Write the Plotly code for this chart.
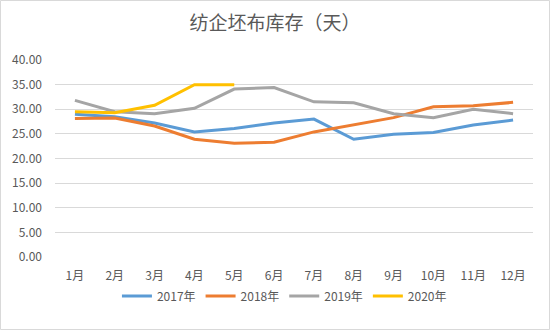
import plotly.graph_objects as go

months = ["1月", "2月", "3月", "4月", "5月", "6月", "7月", "8月", "9月", "10月", "11月", "12月"]
y2017 = [29.0, 28.5, 27.2, 25.4, 26.1, 27.2, 28.0, 23.9, 24.9, 25.3, 26.8, 27.8]
y2018 = [28.1, 28.2, 26.6, 23.9, 23.1, 23.3, 25.4, 26.8, 28.3, 30.5, 30.7, 31.4]
y2019 = [31.8, 29.5, 29.1, 30.2, 34.1, 34.4, 31.5, 31.3, 29.1, 28.3, 30.0, 29.1]
y2020 = [29.5, 29.3, 30.8, 35.0, 35.0]
series = [("2017年", y2017, "#5B9BD5"), ("2018年", y2018, "#ED7D31"),
          ("2019年", y2019, "#A5A5A5"), ("2020年", y2020, "#FFC000")]
yticks = [0, 5, 10, 15, 20, 25, 30, 35, 40]

FONT = "Noto Sans CJK SC, Noto Sans, sans-serif"
fig = go.Figure()
for name, vals, col in series:
    fig.add_trace(go.Scatter(x=months[:len(vals)], y=vals, name=name, mode="lines",
                             line=dict(color=col, width=3)))

L, R, T, B = 55, 17, 60, 73
W, H = 550, 330
pw, ph = W - L - R, H - T - B
fig.update_layout(
    width=W, height=H,
    margin=dict(l=L, r=R, t=T, b=B),
    paper_bgcolor="white", plot_bgcolor="white",
    font=dict(family=FONT, size=12, color="#595959"),
    title=dict(text="纺企坯布库存（天）", x=0.5, xanchor="center", y=1 - 23 / H, yanchor="middle",
               font=dict(size=19, color="#595959")),
    xaxis=dict(categoryorder="array", categoryarray=months, range=[-0.5, 11.5],
               showgrid=False, showline=False, ticks="", ticklabelstandoff=10,
               tickfont=dict(size=12, color="#595959")),
    yaxis=dict(range=[0, 40], tickvals=yticks, ticktext=[f"{v:.2f}" for v in yticks],
               showgrid=True, gridcolor="#D9D9D9", gridwidth=1, zeroline=False,
               tickfont=dict(size=12, color="#595959"), ticklabelstandoff=12),
    legend=dict(orientation="h", x=0.48, xanchor="center", y=-(296 - T - ph) / ph,
                yanchor="middle", font=dict(size=12, color="#595959"), itemwidth=30,
                tracegroupgap=0),
    shapes=[dict(type="rect", xref="paper", yref="paper",
                 x0=-(L - 0.5) / pw, x1=1 + (R - 0.5) / pw,
                 y0=-(B - 0.5) / ph, y1=1 + (T - 0.5) / ph,
                 line=dict(color="#D9D9D9", width=1), layer="below")],
)
fig.write_html("out.html")
